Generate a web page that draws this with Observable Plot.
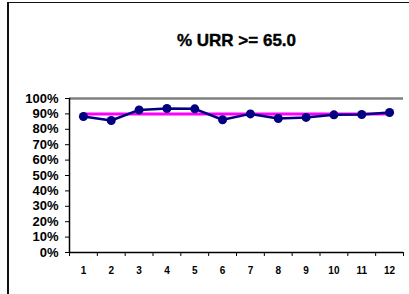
<!DOCTYPE html>
<html>
<head>
<meta charset="utf-8">
<script src="https://cdn.jsdelivr.net/npm/d3@7"></script>
<script src="https://cdn.jsdelivr.net/npm/@observablehq/plot@0.6"></script>
<style>
  html, body { margin: 0; padding: 0; background: #fff; }
  #wrap { position: relative; width: 409px; height: 294px; overflow: hidden; }
  #border { position: absolute; left: 7px; top: 2px; width: 420px; height: 300px;
            border-left: 2px solid #111; border-top: 1px solid #111; pointer-events: none; }
  svg { font-family: "Liberation Sans", Arial, sans-serif; }
  .ttl text { font-weight: 700; }
</style>
</head>
<body>
<div id="wrap"><div id="border"></div></div>
<script>
const title = "% URR >= 65.0";
const months = [1, 2, 3, 4, 5, 6, 7, 8, 9, 10, 11, 12];
const urr = [0.883, 0.857, 0.926, 0.935, 0.933, 0.862, 0.900, 0.870, 0.877, 0.894, 0.896, 0.909];
const target = [0.90, 0.90, 0.90, 0.90, 0.90, 0.90, 0.90, 0.90, 0.90, 0.90, 0.90, 0.90];
const yTicks = [0, 0.1, 0.2, 0.3, 0.4, 0.5, 0.6, 0.7, 0.8, 0.9, 1.0];

const urrData = months.map((m, i) => ({m, v: urr[i]}));
const targetData = months.map((m, i) => ({m, v: target[i]}));
const bounds = d3.range(0.5, 13, 1);

const chart = Plot.plot({
  width: 409,
  height: 294,
  marginLeft: 69,
  marginRight: 6,
  marginTop: 98,
  marginBottom: 42,
  x: {domain: [0.5, 12.5]},
  y: {domain: [0, 1]},
  marks: [
    Plot.text([title], {frameAnchor: "top", dy: -65, text: d => d, fontSize: 17, fontWeight: "bold",
      fill: "#000", stroke: "#000", strokeWidth: 0.4, className: "ttl"}),
    Plot.ruleY([1], {stroke: "#808080", strokeWidth: 2.5}),
    Plot.axisY({ticks: yTicks, tickFormat: d => Math.round(d * 100) + "%", tickSize: 4, tickPadding: 7,
      fontSize: 13, fontWeight: "bold", fill: "#000", stroke: "#000", label: null, style: "letter-spacing:0.9px"}),
    Plot.axisX({ticks: bounds, tickFormat: () => "", tickSize: 4, stroke: "#000", label: null}),
    Plot.axisX({ticks: months, tickFormat: d => String(d), tickSize: 0, tickPadding: 14,
      fontSize: 10, fontWeight: "bold", fill: "#000", label: null, style: "letter-spacing:0.7px"}),
    Plot.ruleX([0.5], {stroke: "#000", strokeWidth: 1.5}),
    Plot.ruleY([0], {stroke: "#000", strokeWidth: 1.5}),
    Plot.line(targetData, {x: "m", y: "v", stroke: "#ff00ff", strokeWidth: 3}),
    Plot.line(urrData, {x: "m", y: "v", stroke: "#000080", strokeWidth: 2.5}),
    Plot.dot(urrData, {x: "m", y: "v", fill: "#000080", r: 4.5, stroke: "none"})
  ]
});
document.getElementById("wrap").prepend(chart);
</script>
</body>
</html>
